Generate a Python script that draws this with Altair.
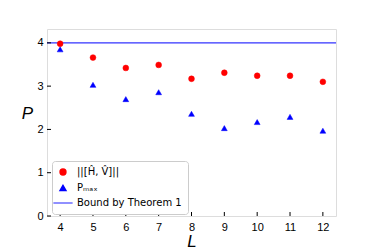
import altair as alt
import pandas as pd

L = [4, 5, 6, 7, 8, 9, 10, 11, 12]
norm_vals = [3.98, 3.66, 3.42, 3.49, 3.17, 3.31, 3.24, 3.24, 3.10]
pmax_vals = [3.85, 3.03, 2.70, 2.86, 2.36, 2.03, 2.17, 2.29, 1.97]
bound = 4
x_ticks = [4, 5, 6, 7, 8, 9, 10, 11, 12]
y_ticks = [0, 1, 2, 3, 4]

lab_norm = "||[Ĥ, V̂]||"
lab_pmax = "Pₘₐₓ"
lab_bound = "Bound by Theorem 1"
domain = [lab_norm, lab_pmax, lab_bound]

df = pd.DataFrame(
    {"L": L * 2, "P": norm_vals + pmax_vals,
     "series": [lab_norm] * len(L) + [lab_pmax] * len(L)}
)

W, H = 289, 187
xs = alt.Scale(domain=[3.6, 12.4], nice=False, zero=False)
ys = alt.Scale(domain=[0, 4.32], nice=False)

legend = alt.Legend(title=None, orient="none", legendX=5, legendY=132,
                    fillColor="white", strokeColor="#cccccc", padding=6, cornerRadius=3,
                    labelFont="DejaVu Sans", labelFontSize=10, labelColor="black",
                    rowPadding=4, labelOffset=9, symbolStrokeWidth=1.5, symbolOpacity=1)

crange = ["#ff0000", "#0000ff", "#6b6bff"]
fill = alt.Fill("series:O", scale=alt.Scale(domain=domain, range=crange), legend=legend)
stroke = alt.Stroke("series:O", scale=alt.Scale(domain=domain, range=crange), legend=legend)
shape = alt.Shape("series:O", scale=alt.Scale(domain=domain, range=["circle", "triangle-up", "M-3.3,0H3.3"]),
                  legend=legend)
size = alt.Size("series:O", scale=alt.Scale(domain=domain, range=[34, 34, 34]), legend=legend)

xaxis = alt.Axis(values=x_ticks, ticks=False, grid=False, domain=False, labelFontSize=11,
                 labelColor="black", title="L", titleFontSize=17, titleFontStyle="italic",
                 titleFontWeight="normal", titlePadding=1, labelPadding=5,
                 labelOverlap=False, labelFlush=False)
yaxis = alt.Axis(values=y_ticks, ticks=False, grid=False, domain=False, labelFontSize=11,
                 labelColor="black", title="P", titleFontSize=17, titleFontStyle="italic",
                 titleFontWeight="normal", titleAngle=0, titlePadding=10, labelPadding=4,
                 labelOverlap=False, labelFlush=False)

points = alt.Chart(df).mark_point(filled=True, opacity=1, strokeWidth=0.5).encode(
    x=alt.X("L:Q", scale=xs, axis=xaxis),
    y=alt.Y("P:Q", scale=ys, axis=yaxis),
    fill=fill,
    stroke=stroke,
    shape=shape,
    size=size,
)

rule = alt.Chart(pd.DataFrame({"P": [bound]})).mark_rule(color="#3333ff", strokeWidth=1.2).encode(
    y=alt.Y("P:Q", scale=ys, axis=yaxis)
)

xt = alt.Chart(pd.DataFrame({"L": x_ticks})).mark_rule(color="black").encode(
    x=alt.X("L:Q", scale=xs, axis=xaxis), y=alt.value(H), y2=alt.value(H - 4)
)
yt = alt.Chart(pd.DataFrame({"P": y_ticks})).mark_rule(color="black").encode(
    y=alt.Y("P:Q", scale=ys, axis=yaxis), x=alt.value(0), x2=alt.value(4)
)

chart = alt.layer(rule, points, xt, yt).properties(
    width=W, height=H,
    autosize=alt.AutoSizeParams(type="none"),
    padding={"left": 39, "top": 21, "right": 30, "bottom": 33},
).configure_view(stroke="black", strokeWidth=1).configure_axis(
    labelFont="DejaVu Sans", titleFont="DejaVu Sans", labelOverlap=False
).configure(background="white")

chart.save("out.html", embed_options={"renderer": "svg", "actions": False})
